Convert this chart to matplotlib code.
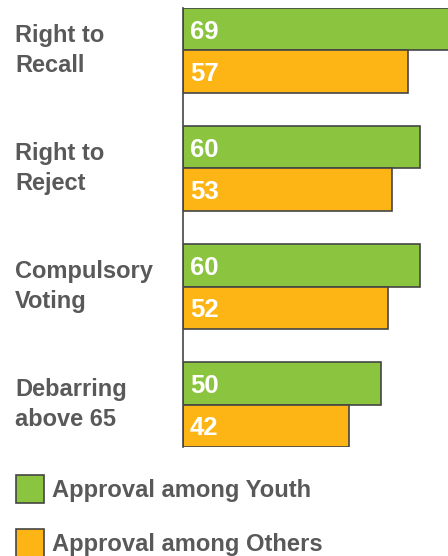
import numpy as np
import matplotlib.pyplot as plt
from matplotlib.patches import Rectangle

categories = ["Right to\nRecall", "Right to\nReject", "Compulsory\nVoting", "Debarring\nabove 65"]
youth = [69, 60, 60, 50]
others = [57, 53, 52, 42]
series_names = ["Approval among Youth", "Approval among Others"]

green = "#8BC53F"
orange = "#FDB515"
edge = "#454545"
grey = "#595959"
font = "Liberation Sans"

W, H = 448, 556
fig = plt.figure(figsize=(W / 100, H / 100), dpi=100)

# axes placed in pixel terms: left spine at x=183, bars from y=8 to y=447
left, top, bottom = 183, 8, 447
ax = fig.add_axes([left / W, 1 - bottom / H, (W - left) / W, (bottom - top) / H])

h = 0.36
pos = np.arange(len(categories))
ax.barh(pos - h / 2, youth, height=h, color=green, edgecolor=edge, linewidth=1.2)
ax.barh(pos + h / 2, others, height=h, color=orange, edgecolor=edge, linewidth=1.2)

ax.set_xlim(0, (W - left) / 3.95)
ax.set_ylim(pos[-1] + h, pos[0] - h)

for i in pos:
    for val, y in ((youth[i], i - h / 2), (others[i], i + h / 2)):
        ax.text(1.7, y + 0.02, str(val), color="white", fontsize=18.5, fontweight="bold",
                family=font, va="center", ha="left")
    ax.text(-168 / 3.95, i, categories[i], color=grey, fontsize=17, fontweight="bold",
            family=font, va="center", ha="left", linespacing=1.38)

for s in ["top", "right", "bottom"]:
    ax.spines[s].set_visible(False)
ax.spines["left"].set_color(edge)
ax.spines["left"].set_linewidth(1.2)
ax.set_xticks([])
ax.set_yticks([])

# legend
for k, (name, col) in enumerate(zip(series_names, [green, orange])):
    yc = 489 + k * 54
    fig.patches.append(Rectangle((16 / W, 1 - (yc + 14) / H), 28 / W, 28 / H,
                                 transform=fig.transFigure, facecolor=col,
                                 edgecolor=edge, linewidth=1.2))
    fig.text(52 / W, 1 - (yc + 1) / H, name, color=grey, fontsize=17.1, fontweight="bold",
             family=font, va="center", ha="left")

fig.savefig("out.png", dpi=100)
